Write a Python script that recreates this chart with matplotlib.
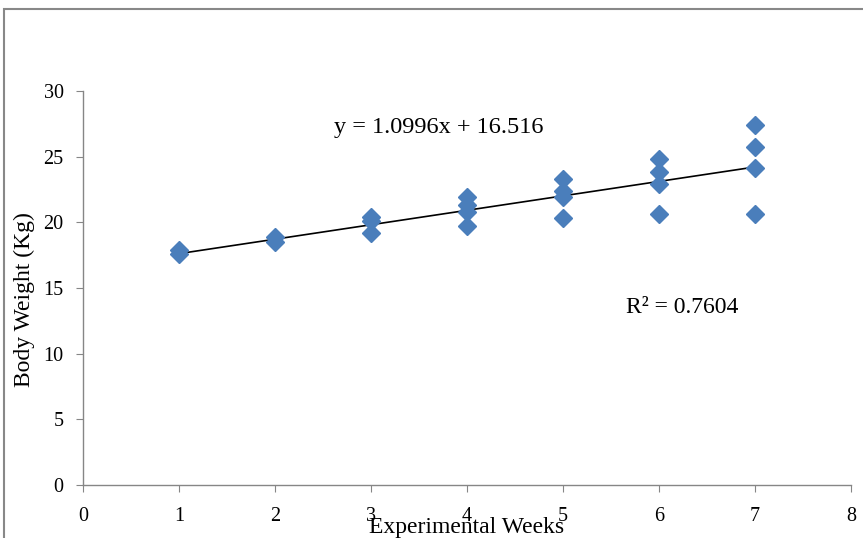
import numpy as np
import matplotlib
matplotlib.use("Agg")
import matplotlib.pyplot as plt
from matplotlib.patches import Rectangle

## body weight per week
weeks = [1, 1, 2, 2, 3, 3, 3, 4, 4, 4, 4, 5, 5, 5, 5, 6, 6, 6, 6, 7, 7, 7, 7]
weights = [17.9, 17.6, 18.9, 18.5, 20.4, 20.1, 19.2, 21.9, 21.3, 20.8, 19.7,
           23.3, 22.4, 21.9, 20.3, 24.8, 23.8, 22.9, 20.6, 27.4, 25.7, 24.1, 20.6]

## trendline from the chart label
slope = 1.0996
intercept = 16.516
r2 = 0.7604

plt.rcParams['font.family'] = ['Liberation Serif', 'DejaVu Serif']

fig = plt.figure(figsize=(8.63, 5.38), dpi=100)
ax = fig.add_axes([0.0962, 0.0985, 0.8898, 0.7324])

ax.plot(weeks, weights, linestyle='none', marker='D', markersize=9.5,
        color='#4A7EBB', zorder=3)

xl = np.array([min(weeks), max(weeks)])
ax.plot(xl, slope * xl + intercept, color='black', linewidth=1.2, zorder=2)

ax.set_xlim(0, 8)
ax.set_ylim(0, 30)
ax.set_xticks(range(0, 9))
ax.set_yticks(range(0, 31, 5))

gray = '#868686'
for s in ['top', 'right']:
    ax.spines[s].set_visible(False)
for s in ['left', 'bottom']:
    ax.spines[s].set_color(gray)
    ax.spines[s].set_linewidth(1.0)
ax.tick_params(direction='out', length=5, color=gray, labelsize=14.5,
               labelcolor='black')
ax.tick_params(axis='x', pad=10.5)
ax.tick_params(axis='y', pad=9)

ax.text(3.71, 27.2, 'y = 1.0996x + 16.516', fontsize=17.5, ha='center', va='center')
ax.text(6.24, 13.5, 'R² = %.4f' % r2, fontsize=17, ha='center', va='center')

fig.text(467 / 863, 1 - 527 / 538, 'Experimental Weeks', fontsize=17,
         ha='center', va='center')
fig.text(24 / 863, 1 - 300 / 538, 'Body Weight (Kg)', fontsize=17,
         ha='center', va='center', rotation=90)

## outer chart border
fig.patches.append(Rectangle((4 / 863, -0.1), 1.2, 1.1 - 9 / 538,
                             transform=fig.transFigure, fill=False,
                             edgecolor='#888888', linewidth=1.5))

fig.savefig('out.png', dpi=100)
